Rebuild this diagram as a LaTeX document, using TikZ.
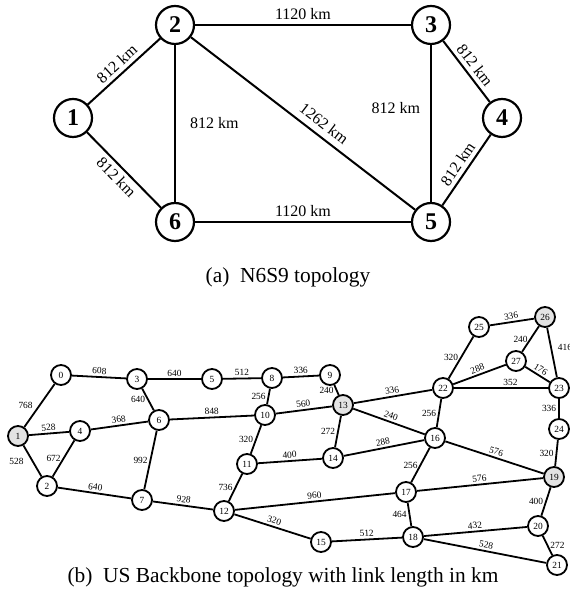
\documentclass[tikz,border=0pt]{standalone}
\usepackage{fontspec}
\setmainfont{Liberation Serif}
\usetikzlibrary{arrows}
\usetikzlibrary{shapes}
\tikzstyle{BigNode}=[circle, draw=black, line width=1.1pt, minimum size=19pt, inner sep=0pt, fill=white, font=\fontsize{12}{12}\selectfont\bfseries]
\tikzstyle{SmallNode}=[circle, draw=black, line width=0.9pt, minimum size=10pt, inner sep=0pt, fill=white, font=\fontsize{4.7}{5}\selectfont]
\tikzstyle{GrayNode}=[SmallNode, fill=gray!22]
\tikzstyle{BigEdge}=[line width=1pt]
\tikzstyle{SmallEdge}=[line width=0.9pt]
\tikzstyle{BigLabel}=[font=\fontsize{8}{8}\selectfont, inner sep=2pt]
\tikzstyle{SmallLabel}=[font=\fontsize{4.7}{5}\selectfont, inner sep=1pt]
\tikzstyle{Caption}=[font=\fontsize{10.7}{12}\selectfont]

\begin{document}
\begin{tikzpicture}[x=0.5pt, y=-0.5pt]
\useasboundingbox (0,0) rectangle (569,597);

\node[BigNode](A1) at (73,118) {1};
\node[BigNode](A2) at (175,25) {2};
\node[BigNode](A3) at (431,25) {3};
\node[BigNode](A4) at (502,118) {4};
\node[BigNode](A5) at (431,222) {5};
\node[BigNode](A6) at (175,222) {6};

\draw[BigEdge](A1) -- node[BigLabel, above, sloped]{812 km} (A2);
\draw[BigEdge](A1) -- node[BigLabel, below, sloped]{812 km} (A6);
\draw[BigEdge](A2) -- node[BigLabel, above]{1120 km} (A3);
\draw[BigEdge](A2) -- node[BigLabel, right, xshift=5pt]{812 km} (A6);
\draw[BigEdge](A2) -- node[BigLabel, pos=0.56, above, sloped, yshift=1pt]{1262 km} (A5);
\draw[BigEdge](A3) -- node[BigLabel, pos=0.4, left, xshift=-3pt]{812 km} (A5);
\draw[BigEdge](A3) -- node[BigLabel, above, sloped]{812 km} (A4);
\draw[BigEdge](A5) -- node[BigLabel, above, sloped]{812 km} (A4);
\draw[BigEdge](A6) -- node[BigLabel, above]{1120 km} (A5);

\node[Caption](CapA) at (288,277) {(a)~~N6S9 topology};

\node[SmallNode](B0) at (61,375) {0};
\node[GrayNode](B1) at (18,436) {1};
\node[SmallNode](B2) at (47,486) {2};
\node[SmallNode](B3) at (137,379) {3};
\node[SmallNode](B4) at (80,431) {4};
\node[SmallNode](B5) at (212,379) {5};
\node[SmallNode](B6) at (159,420) {6};
\node[SmallNode](B7) at (142,500) {7};
\node[SmallNode](B8) at (272,378) {8};
\node[SmallNode](B9) at (330,375) {9};
\node[SmallNode](B10) at (265,415) {10};
\node[SmallNode](B11) at (247,464) {11};
\node[SmallNode](B12) at (224,511) {12};
\node[GrayNode](B13) at (343,405) {13};
\node[SmallNode](B14) at (333,458) {14};
\node[SmallNode](B15) at (321,542) {15};
\node[SmallNode](B16) at (435,438) {16};
\node[SmallNode](B17) at (406,492) {17};
\node[SmallNode](B18) at (413,537) {18};
\node[GrayNode](B19) at (554,477) {19};
\node[SmallNode](B20) at (538,526) {20};
\node[SmallNode](B21) at (557,565) {21};
\node[SmallNode](B22) at (443,388) {22};
\node[SmallNode](B23) at (559,388) {23};
\node[SmallNode](B24) at (559,429) {24};
\node[SmallNode](B25) at (479,327) {25};
\node[GrayNode](B26) at (545,317) {26};
\node[SmallNode](B27) at (516,361) {27};

\draw[SmallEdge](B1) -- node[SmallLabel, left, xshift=-2pt]{768} (B0);
\draw[SmallEdge](B0) -- node[SmallLabel, above, sloped]{608} (B3);
\draw[SmallEdge](B1) -- node[SmallLabel, above, sloped]{528} (B4);
\draw[SmallEdge](B1) -- node[SmallLabel, left, xshift=-3pt]{528} (B2);
\draw[SmallEdge](B2) -- node[SmallLabel, left]{672} (B4);
\draw[SmallEdge](B3) -- node[SmallLabel, left]{640} (B6);
\draw[SmallEdge](B3) -- node[SmallLabel, above, sloped]{640} (B5);
\draw[SmallEdge](B4) -- node[SmallLabel, above, sloped]{368} (B6);
\draw[SmallEdge](B2) -- node[SmallLabel, above, sloped]{640} (B7);
\draw[SmallEdge](B7) -- node[SmallLabel, left]{992} (B6);
\draw[SmallEdge](B6) -- node[SmallLabel, above, sloped]{848} (B10);
\draw[SmallEdge](B5) -- node[SmallLabel, above, sloped]{512} (B8);
\draw[SmallEdge](B10) -- node[SmallLabel, left]{256} (B8);
\draw[SmallEdge](B8) -- node[SmallLabel, above, sloped]{336} (B9);
\draw[SmallEdge](B9) -- node[SmallLabel, left]{240} (B13);
\draw[SmallEdge](B10) -- node[SmallLabel, above, sloped]{560} (B13);
\draw[SmallEdge](B11) -- node[SmallLabel, left]{320} (B10);
\draw[SmallEdge](B11) -- node[SmallLabel, above, sloped]{400} (B14);
\draw[SmallEdge](B12) -- node[SmallLabel, left]{736} (B11);
\draw[SmallEdge](B7) -- node[SmallLabel, above, sloped]{928} (B12);
\draw[SmallEdge](B14) -- node[SmallLabel, left]{272} (B13);
\draw[SmallEdge](B13) -- node[SmallLabel, above, sloped]{336} (B22);
\draw[SmallEdge](B13) -- node[SmallLabel, above, sloped]{240} (B16);
\draw[SmallEdge](B14) -- node[SmallLabel, above, sloped]{288} (B16);
\draw[SmallEdge](B12) -- node[SmallLabel, above, sloped]{960} (B17);
\draw[SmallEdge](B12) -- node[SmallLabel, above, sloped]{320} (B15);
\draw[SmallEdge](B15) -- node[SmallLabel, above, sloped]{512} (B18);
\draw[SmallEdge](B16) -- node[SmallLabel, left]{256} (B22);
\draw[SmallEdge](B17) -- node[SmallLabel, left]{256} (B16);
\draw[SmallEdge](B16) -- node[SmallLabel, above, sloped]{576} (B19);
\draw[SmallEdge](B17) -- node[SmallLabel, above, sloped]{576} (B19);
\draw[SmallEdge](B17) -- node[SmallLabel, left]{464} (B18);
\draw[SmallEdge](B18) -- node[SmallLabel, above, sloped]{432} (B20);
\draw[SmallEdge](B18) -- node[SmallLabel, above, sloped]{528} (B21);
\draw[SmallEdge](B20) -- node[SmallLabel, left]{400} (B19);
\draw[SmallEdge](B20) -- node[SmallLabel, right]{272} (B21);
\draw[SmallEdge](B19) -- node[SmallLabel, left]{320} (B24);
\draw[SmallEdge](B24) -- node[SmallLabel, left]{336} (B23);
\draw[SmallEdge](B22) -- node[SmallLabel, pos=0.6, above, sloped]{352} (B23);
\draw[SmallEdge](B22) -- node[SmallLabel, above, sloped]{288} (B27);
\draw[SmallEdge](B22) -- node[SmallLabel, left]{320} (B25);
\draw[SmallEdge](B27) -- node[SmallLabel, above, sloped]{176} (B23);
\draw[SmallEdge](B27) -- node[SmallLabel, left]{240} (B26);
\draw[SmallEdge](B25) -- node[SmallLabel, above, sloped]{336} (B26);
\draw[SmallEdge](B26) -- node[SmallLabel, pos=0.4, right, xshift=2pt]{416} (B23);

\node[Caption](CapB) at (283,577) {(b)~~US Backbone topology with link length in km};
\end{tikzpicture}
\end{document}
